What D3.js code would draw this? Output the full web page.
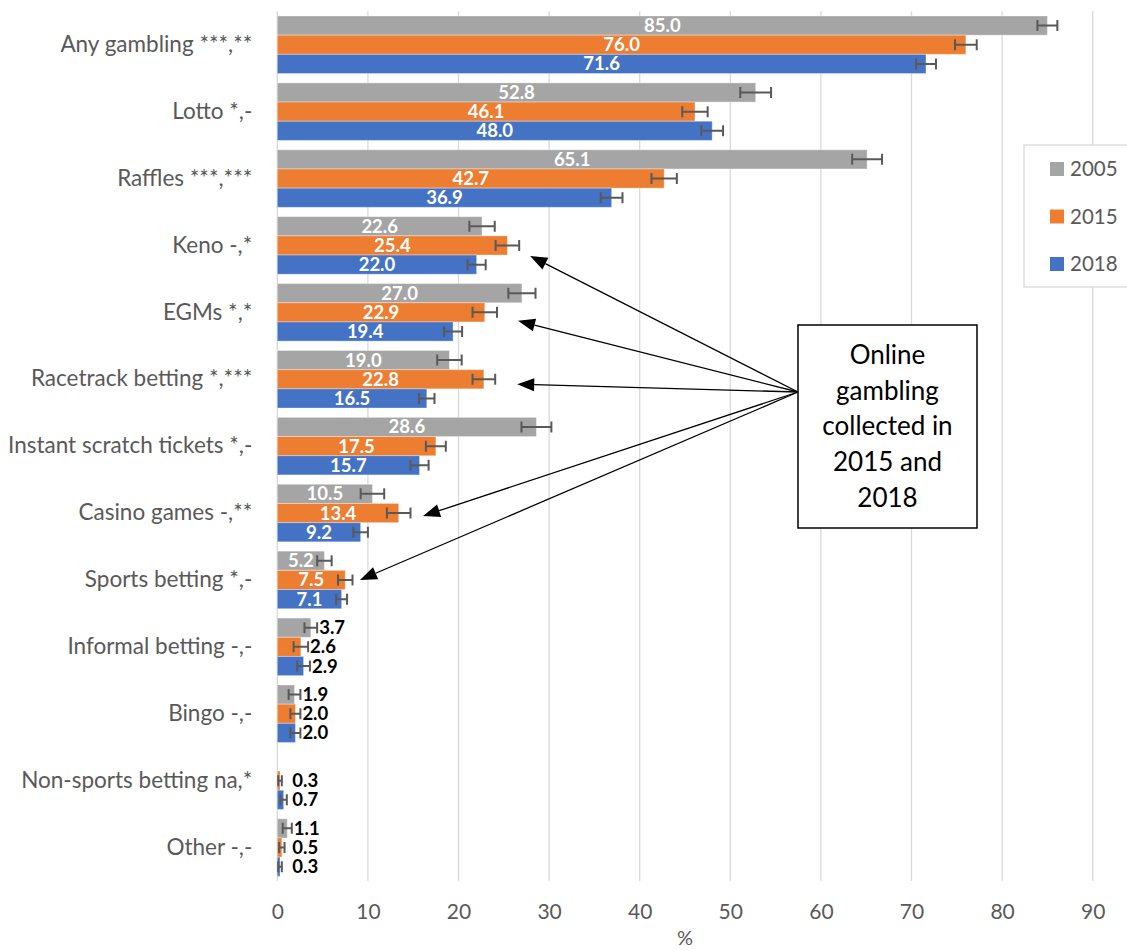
<!DOCTYPE html>
<html>
<head>
<meta charset="utf-8">
<script src="https://cdn.jsdelivr.net/npm/d3@7"></script>
<style>
  html, body { margin: 0; padding: 0; background: #ffffff; }
  svg { display: block; font-family: Lato, "Open Sans", sans-serif; }
</style>
</head>
<body>
<svg id="chart" width="1127" height="950"></svg>
<script>
// Gambling participation by activity, three survey years (%), with 95% CI error bars
const categories = [
  "Any gambling ***,**", "Lotto *,-", "Raffles ***,***", "Keno -,*", "EGMs *,*",
  "Racetrack betting *,***", "Instant scratch tickets *,-", "Casino games -,**",
  "Sports betting *,-", "Informal betting -,-", "Bingo -,-", "Non-sports betting na,*", "Other -,-"
];
const years = ["2005", "2015", "2018"];
const values2005 = [85.0, 52.8, 65.1, 22.6, 27.0, 19.0, 28.6, 10.5, 5.2, 3.7, 1.9, null, 1.1];
const values2015 = [76.0, 46.1, 42.7, 25.4, 22.9, 22.8, 17.5, 13.4, 7.5, 2.6, 2.0, 0.3, 0.5];
const values2018 = [71.6, 48.0, 36.9, 22.0, 19.4, 16.5, 15.7, 9.2, 7.1, 2.9, 2.0, 0.7, 0.3];
const errors2005 = [1.1, 1.7, 1.65, 1.4, 1.5, 1.35, 1.65, 1.3, 0.8, 0.7, 0.65, null, 0.5];
const errors2015 = [1.2, 1.4, 1.4, 1.3, 1.35, 1.25, 1.1, 1.3, 0.8, 0.8, 0.55, 0.2, 0.3];
const errors2018 = [1.1, 1.2, 1.2, 1.0, 1.0, 0.85, 1.0, 0.8, 0.6, 0.7, 0.55, 0.35, 0.2];
const xTicks = [0, 10, 20, 30, 40, 50, 60, 70, 80, 90];
const colors = ["#a5a5a5", "#ed7d31", "#4472c4"];
const noteLines = ["Online", "gambling", "collected in", "2015 and", "2018"];
// activities with an online component flagged by the callout (pointing at the 2015 bar)
const onlineTargets = [
  { category: "Keno -,*", dx: 11, dy: 10.5 },
  { category: "EGMs *,*", dx: 21, dy: 8.5 },
  { category: "Racetrack betting *,***", dx: 22, dy: 5 },
  { category: "Casino games -,**", dx: 12.5, dy: 3 },
  { category: "Sports betting *,-", dx: 7.5, dy: 0 }
];

const valuesByYear = [values2005, values2015, values2018];
const errorsByYear = [errors2005, errors2015, errors2018];

const rows = [];
categories.forEach((c, i) => {
  years.forEach((y, j) => {
    if (valuesByYear[j][i] != null) {
      rows.push({ category: c, year: y, value: valuesByYear[j][i], err: errorsByYear[j][i], idx: j });
    }
  });
});

const svg = d3.select("#chart");
const margin = { left: 277.3, right: 34.3, top: 11.3 };
const W = 1127;
const plotBottom = margin.top + 869.7;

const x = d3.scaleLinear().domain([0, 90]).range([margin.left, W - margin.right]);
const y0 = d3.scaleBand().domain(categories).range([margin.top, plotBottom])
  .paddingInner(0.14).paddingOuter(0.07);
const y1 = d3.scaleBand().domain(years).range([0, y0.bandwidth()]);

const textGrey = "#595959";

// vertical gridlines
svg.append("g").selectAll("line").data(xTicks).join("line")
  .attr("x1", d => x(d)).attr("x2", d => x(d))
  .attr("y1", margin.top).attr("y2", plotBottom)
  .attr("stroke", "#d9d9d9").attr("stroke-width", 1.3);

// x axis tick labels
const xAxis = d3.axisBottom(x).tickValues(xTicks).tickSize(0).tickPadding(0).tickFormat(d3.format("d"));
const gx = svg.append("g").attr("transform", `translate(0,${plotBottom + 24})`).call(xAxis);
gx.select(".domain").remove();
gx.selectAll("text").attr("fill", textGrey).attr("font-size", 21).attr("font-family", "Lato, sans-serif")
  .attr("dy", "0.35em").attr("y", 7);

svg.append("text").attr("x", x(45)).attr("y", 938).attr("dy", "0.35em")
  .attr("text-anchor", "middle").attr("fill", textGrey).attr("font-size", 20).text("%");

// category labels
const yAxis = d3.axisLeft(y0).tickSize(0).tickPadding(0);
const gy = svg.append("g").attr("transform", `translate(${margin.left - 25},0)`).call(yAxis);
gy.select(".domain").remove();
gy.selectAll("text").attr("fill", textGrey).attr("font-size", 22.5).attr("font-family", "Lato, sans-serif");

// bars
const barG = svg.append("g");
barG.selectAll("rect").data(rows).join("rect")
  .attr("x", x(0))
  .attr("y", d => y0(d.category) + y1(d.year))
  .attr("width", d => x(d.value) - x(0))
  .attr("height", y1.bandwidth())
  .attr("fill", d => colors[d.idx])
  .attr("stroke", "#ffffff").attr("stroke-opacity", 0.35).attr("stroke-width", 1);

// error bars
const errG = svg.append("g").attr("stroke", "#595959").attr("stroke-width", 2).attr("fill", "none");
const capH = 5.5;
rows.forEach(d => {
  const cy = y0(d.category) + y1(d.year) + y1.bandwidth() / 2;
  const xa = x(d.value - d.err), xb = x(d.value + d.err);
  errG.append("path")
    .attr("d", `M${xa},${cy}H${xb}M${xa},${cy - capH}V${cy + capH}M${xb},${cy - capH}V${cy + capH}`);
});

// value labels: centred white text on wide bars, black text after the error bar on narrow ones
const labelG = svg.append("g").attr("font-weight", 700).attr("font-size", 18.5);
rows.forEach(d => {
  const cy = y0(d.category) + y1(d.year) + y1.bandwidth() / 2;
  const inside = d.value >= 5;
  const t = labelG.append("text").attr("y", cy).attr("dy", "0.35em").text(d3.format(".1f")(d.value));
  if (inside) {
    t.attr("x", (x(0) + x(d.value)) / 2).attr("text-anchor", "middle").attr("fill", "#ffffff");
  } else {
    t.attr("x", Math.max(x(d.value + d.err) + 2, x(0) + 15)).attr("text-anchor", "start").attr("fill", "#000000");
  }
});

// legend
const lg = svg.append("g");
lg.append("rect").attr("x", 1024).attr("y", 145).attr("width", 120).attr("height", 142)
  .attr("fill", "#ffffff").attr("stroke", "#d9d9d9").attr("stroke-width", 1.3);
years.forEach((yr, j) => {
  const cy = 169 + j * 47.5;
  lg.append("rect").attr("x", 1050).attr("y", cy - 7).attr("width", 14).attr("height", 14).attr("fill", colors[j]);
  lg.append("text").attr("x", 1070).attr("y", cy).attr("dy", "0.35em")
    .attr("fill", textGrey).attr("font-size", 20.5).text(yr);
});

// callout box with arrows
const src = { x: 798, y: 392 };
const arrowG = svg.append("g");
onlineTargets.forEach(t => {
  const i = categories.indexOf(t.category);
  const v = values2015[i] + errors2015[i];
  const tip = { x: x(v) + t.dx, y: y0(t.category) + y1("2015") + y1.bandwidth() / 2 + t.dy };
  const ang = Math.atan2(src.y - tip.y, src.x - tip.x);
  const L = 17, hw = 6.5;
  const bx = tip.x + L * Math.cos(ang), by = tip.y + L * Math.sin(ang);
  arrowG.append("line").attr("x1", src.x).attr("y1", src.y).attr("x2", bx).attr("y2", by)
    .attr("stroke", "#000").attr("stroke-width", 1.3);
  const px = -Math.sin(ang) * hw, py = Math.cos(ang) * hw;
  arrowG.append("polygon")
    .attr("points", `${tip.x},${tip.y} ${bx + px},${by + py} ${bx - px},${by - py}`)
    .attr("fill", "#000");
});

const box = svg.append("g");
box.append("rect").attr("x", 798).attr("y", 325).attr("width", 179).attr("height", 203)
  .attr("fill", "#ffffff").attr("stroke", "#000").attr("stroke-width", 1.5);
noteLines.forEach((ln, k) => {
  box.append("text").attr("x", 887.5).attr("y", 355 + k * 35.6).attr("dy", "0.35em")
    .attr("text-anchor", "middle").attr("fill", "#000").attr("font-size", 26).text(ln);
});
</script>
</body>
</html>
